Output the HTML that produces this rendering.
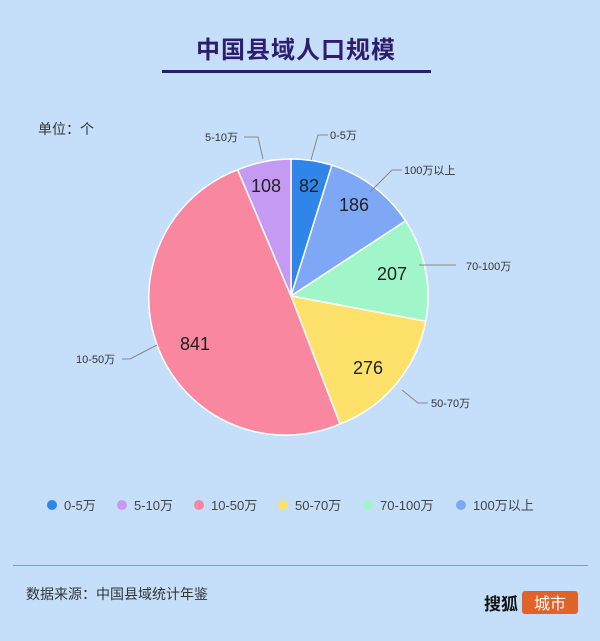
<!DOCTYPE html>
<html><head><meta charset="utf-8"><style>
body{margin:0;background:#c5dffa;}
svg{display:block;font-family:"Liberation Sans","Noto Sans CJK SC",sans-serif;}
</style></head><body>
<svg width="600" height="641" viewBox="0 0 600 641">
<rect width="600" height="641" fill="#c5dffa"/>
<text x="296" y="58" text-anchor="middle" font-size="24" font-weight="bold" fill="#2e1d6e" letter-spacing="1">中国县域人口规模</text>
<rect x="162" y="70" width="269" height="3" fill="#2e1d6e"/>
<text x="38" y="134" font-size="14" fill="#333">单位：个</text>
<g stroke="#fff" stroke-width="1.5">
<path d="M291,296 L291,159 A137,137 0 0 1 331.9,165.2 Z" fill="#2f86e8"/>
<path d="M291,296 L331.9,165.2 A137,137 0 0 1 405.6,220.9 Z" fill="#7ea8f5"/>
<path d="M291,296 L405.6,220.9 A137,137 0 0 1 425.7,321.2 Z" fill="#a0f6c9"/>
<path d="M291,296 L425.7,321.2 A137,137 0 0 1 340,423.9 Z" fill="#fde16a"/>
<path d="M291,296 L340,423.9 A137,137 0 1 1 237.7,169.8 Z" fill="#f8879f"/>
<path d="M291,296 L237.7,169.8 A137,137 0 0 1 291,159 Z" fill="#c59af2"/>
</g>
<g font-size="18" fill="#222" text-anchor="middle">
<text x="309" y="192">82</text>
<text x="354" y="211">186</text>
<text x="392" y="280">207</text>
<text x="368" y="374">276</text>
<text x="195" y="350">841</text>
<text x="266" y="192">108</text>
</g>
<g fill="none" stroke="#888" stroke-width="1">
<polyline points="311,160 318,135 328,135"/>
<polyline points="263,159 258,137 244,137"/>
<polyline points="370,192 392,170 402,170"/>
<polyline points="419,265 456,265"/>
<polyline points="402,390 418,403 428,403"/>
<polyline points="157,345 130,359 122,359"/>
</g>
<g font-size="11" fill="#333">
<text x="330" y="139">0-5万</text>
<text x="205" y="141">5-10万</text>
<text x="404" y="174">100万以上</text>
<text x="466" y="270">70-100万</text>
<text x="431" y="407">50-70万</text>
<text x="76" y="363">10-50万</text>
</g>
<g font-size="13" fill="#444">
<circle cx="52" cy="505" r="5" fill="#2f86e8"/><text x="64" y="510">0-5万</text>
<circle cx="122" cy="505" r="5" fill="#c59af2"/><text x="134" y="510">5-10万</text>
<circle cx="199" cy="505" r="5" fill="#f8879f"/><text x="211" y="510">10-50万</text>
<circle cx="283" cy="505" r="5" fill="#fde16a"/><text x="295" y="510">50-70万</text>
<circle cx="368" cy="505" r="5" fill="#a0f6c9"/><text x="380" y="510">70-100万</text>
<circle cx="461" cy="505" r="5" fill="#7ea8f5"/><text x="473" y="510">100万以上</text>
</g>
<rect x="13" y="565" width="575" height="1" fill="#999"/>
<text x="26" y="599" font-size="14" fill="#333">数据来源：中国县域统计年鉴</text>
<text x="484" y="610" font-size="17" font-weight="bold" fill="#111">搜狐</text>
<rect x="522" y="591" width="56" height="23" rx="3" fill="#e0642a"/>
<text x="550" y="609" font-size="16" fill="#fff" text-anchor="middle">城市</text>
</svg>
</body></html>
